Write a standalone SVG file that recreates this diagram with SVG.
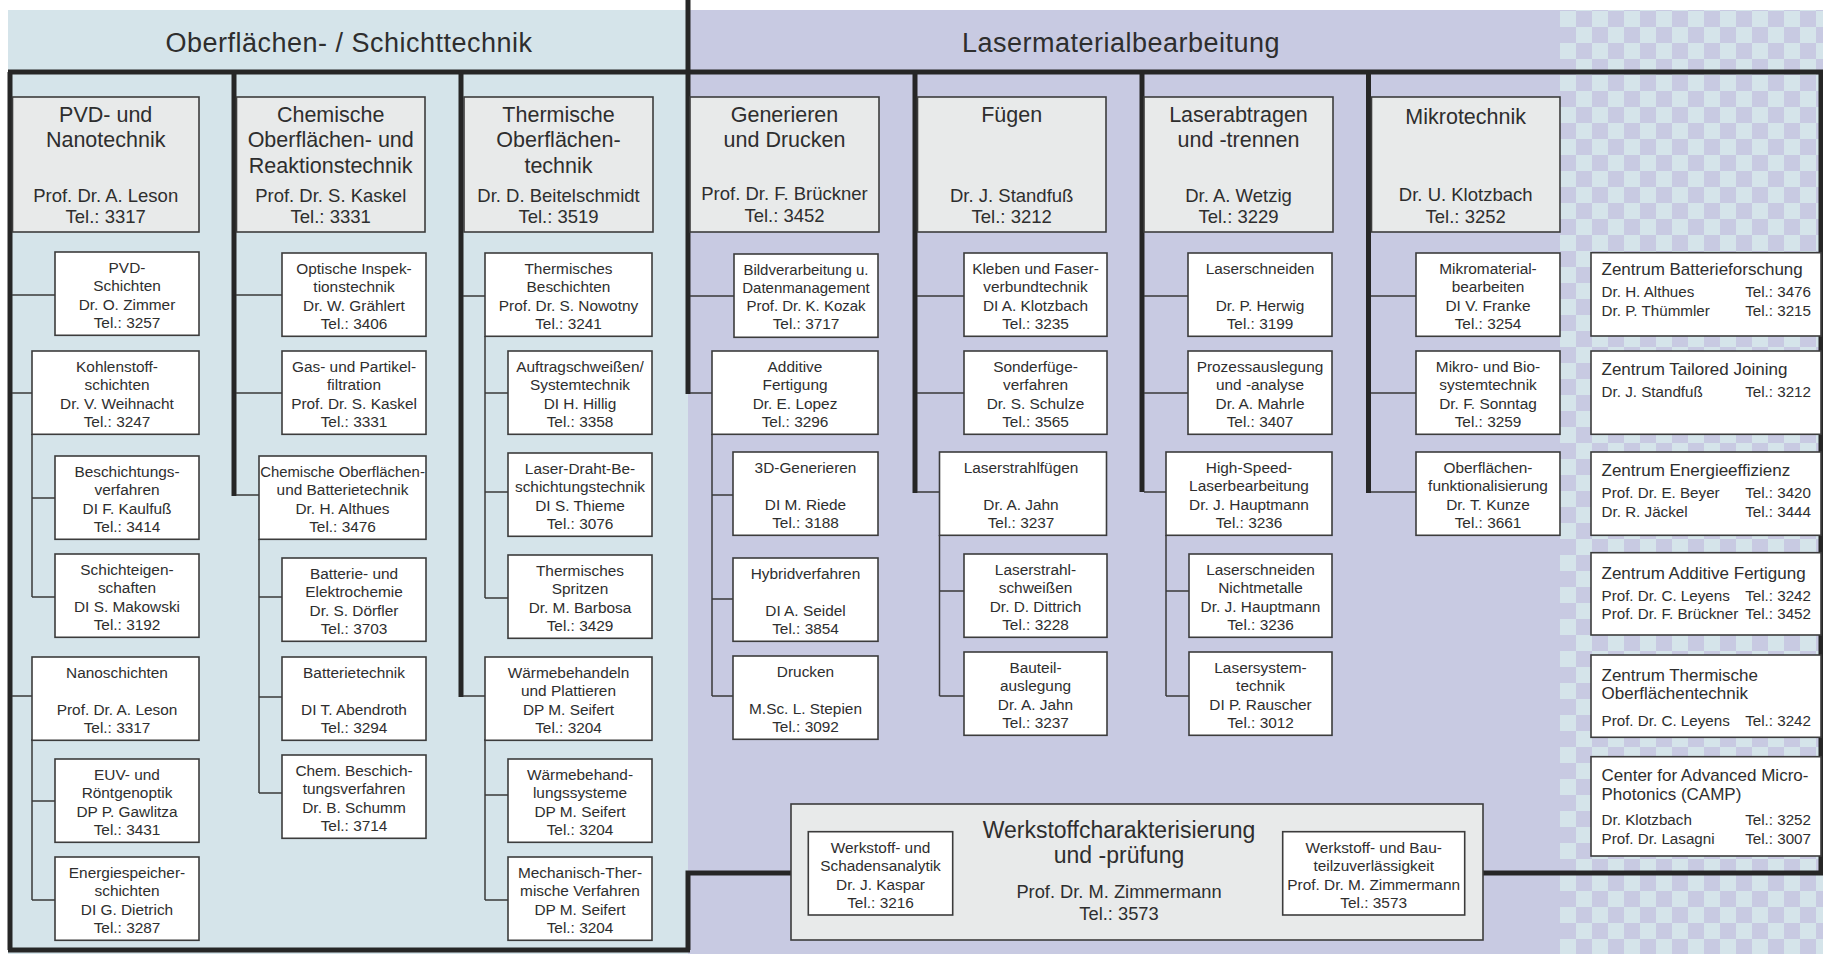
<svg xmlns="http://www.w3.org/2000/svg" width="1823" height="954" viewBox="0 0 1823 954">
<defs>
<pattern id="chk" patternUnits="userSpaceOnUse" x="1560" y="11" width="32" height="32">
<rect width="32" height="32" fill="#c8cae2"/>
<rect width="16" height="16" fill="#d5e4ea"/>
<rect x="16" y="16" width="16" height="16" fill="#d5e4ea"/>
</pattern>
</defs>
<style>
.t{font-family:"Liberation Sans",Arial,sans-serif;fill:#2e2e2e;text-anchor:middle}
.hd{font-size:27px;letter-spacing:0.5px}
.h{font-size:21.5px}
.m{font-size:18.5px}
.s{font-size:15.4px}
.zt{font-size:17px;text-anchor:start}
.zl{font-size:15.2px;text-anchor:start}
.zr{font-size:15.2px;text-anchor:end}
.mb{fill:#e8eaea;stroke:#3c3c3c;stroke-width:1.6}
.sb{fill:#ffffff;stroke:#3c3c3c;stroke-width:1.6}
.thick{fill:none;stroke:#262626;stroke-width:5}
.thin{fill:none;stroke:#3a3a3a;stroke-width:1.5}
</style>
<rect width="1823" height="954" fill="#ffffff"/>
<rect x="8" y="10" width="680" height="944" fill="#d5e4ea"/>
<rect x="688" y="10" width="1135" height="944" fill="#c8cae2"/>
<rect x="1560" y="10" width="263" height="944" fill="url(#chk)"/>
<text class="t hd" x="349" y="52">Oberflächen- / Schichttechnik</text>
<text class="t hd" x="1121" y="52">Lasermaterialbearbeitung</text>

<g id="connectors">
<path class="thick" d="M8,72 H1823 M688,0 V72 M10,72 V950 M8,950 H690 M688,950 V873 H791 M1483,873 H1823 M1821,72 V873"/>
<path class="thick" d="M234,72 V496 M461,72 V697 M688,72 V394 M915,72 V493 M1142,72 V492 M1368.5,72 V493"/>
<path class="thin" d="M12,295 H55 M12,393 H32 M32,434 V597 M32,498 H55 M32,597 H55 M12,696 H32 M32,739 V900 M32,801 H55 M32,900 H55"/>
<path class="thin" d="M236,295 H282 M236,393 H282 M236,495 H259 M259,539 V793 M259,597 H282 M259,697 H282 M259,793 H282"/>
<path class="thin" d="M463,296 H485 M485,336 V598 M485,393 H508 M485,492 H508 M485,598 H508 M463,696 H485 M485,739 V900 M485,795 H508 M485,900 H508"/>
<path class="thin" d="M690,296 H734 M690,393 H712 M712,434 V696 M712,495 H733 M712,599 H733 M712,696 H733"/>
<path class="thin" d="M917,296 H964 M917,393 H964 M917,492 H939.5 M939.5,535 V696 M939.5,591 H964 M939.5,696 H964"/>
<path class="thin" d="M1144,296 H1188 M1144,393 H1188 M1144,492 H1166 M1166,535 V696 M1166,591 H1189 M1166,696 H1189"/>
<path class="thin" d="M1371,296 H1416 M1371,393 H1416 M1371,492 H1416"/>
</g>

<g id="col-pvd">
<rect class="mb" x="12.5" y="97" width="186.5" height="135"/>
<text class="t h" x="105.7" y="121.7">PVD- und</text>
<text class="t h" x="105.7" y="146.7">Nanotechnik</text>
<text class="t m" x="105.7" y="201.7">Prof. Dr. A. Leson</text>
<text class="t m" x="105.7" y="223.3">Tel.: 3317</text>
</g>
<g id="pvd-schichten"><rect class="sb" x="55" y="252" width="144" height="83.3"/>
<text class="t s" x="127" y="272.5">PVD-</text><text class="t s" x="127" y="291">Schichten</text><text class="t s" x="127" y="309.5">Dr. O. Zimmer</text><text class="t s" x="127" y="328">Tel.: 3257</text></g>
<g id="kohlenstoff"><rect class="sb" x="32" y="351" width="167" height="83.3"/>
<text class="t s" x="117" y="371.5">Kohlenstoff-</text><text class="t s" x="117" y="390">schichten</text><text class="t s" x="117" y="408.5">Dr. V. Weihnacht</text><text class="t s" x="117" y="427">Tel.: 3247</text></g>
<g id="beschichtungsverfahren"><rect class="sb" x="55" y="456" width="144" height="83.3"/>
<text class="t s" x="127" y="476.5">Beschichtungs-</text><text class="t s" x="127" y="495">verfahren</text><text class="t s" x="127" y="513.5">DI F. Kaulfuß</text><text class="t s" x="127" y="532">Tel.: 3414</text></g>
<g id="schichteigenschaften"><rect class="sb" x="55" y="554" width="144" height="83.3"/>
<text class="t s" x="127" y="574.5">Schichteigen-</text><text class="t s" x="127" y="593">schaften</text><text class="t s" x="127" y="611.5">DI S. Makowski</text><text class="t s" x="127" y="630">Tel.: 3192</text></g>
<g id="nanoschichten"><rect class="sb" x="32" y="657" width="167" height="83.3"/>
<text class="t s" x="117" y="677.5">Nanoschichten</text><text class="t s" x="117" y="714.5">Prof. Dr. A. Leson</text><text class="t s" x="117" y="733">Tel.: 3317</text></g>
<g id="euv"><rect class="sb" x="55" y="759" width="144" height="83.3"/>
<text class="t s" x="127" y="779.5">EUV- und</text><text class="t s" x="127" y="798">Röntgenoptik</text><text class="t s" x="127" y="816.5">DP P. Gawlitza</text><text class="t s" x="127" y="835">Tel.: 3431</text></g>
<g id="energiespeicher"><rect class="sb" x="55" y="857" width="144" height="83.3"/>
<text class="t s" x="127" y="877.5">Energiespeicher-</text><text class="t s" x="127" y="896">schichten</text><text class="t s" x="127" y="914.5">DI G. Dietrich</text><text class="t s" x="127" y="933">Tel.: 3287</text></g>

<g id="col-chem">
<rect class="mb" x="236.5" y="97" width="188.5" height="135"/>
<text class="t h" x="330.7" y="121.7">Chemische</text>
<text class="t h" x="330.7" y="146.7">Oberflächen- und</text>
<text class="t h" x="330.7" y="173">Reaktionstechnik</text>
<text class="t m" x="330.7" y="201.7">Prof. Dr. S. Kaskel</text>
<text class="t m" x="330.7" y="223.3">Tel.: 3331</text>
</g>
<g id="optische"><rect class="sb" x="282" y="253" width="144" height="83.3"/>
<text class="t s" x="354" y="273.5">Optische Inspek-</text><text class="t s" x="354" y="292">tionstechnik</text><text class="t s" x="354" y="310.5">Dr. W. Grählert</text><text class="t s" x="354" y="329">Tel.: 3406</text></g>
<g id="gas"><rect class="sb" x="282" y="351" width="144" height="83.3"/>
<text class="t s" x="354" y="371.5">Gas- und Partikel-</text><text class="t s" x="354" y="390">filtration</text><text class="t s" x="354" y="408.5">Prof. Dr. S. Kaskel</text><text class="t s" x="354" y="427">Tel.: 3331</text></g>
<g id="chem-batterie"><rect class="sb" x="259" y="456" width="167" height="83.3"/>
<text class="t s" x="342.5" y="476.5" style="font-size:14.9px">Chemische Oberflächen-</text><text class="t s" x="342.5" y="495">und Batterietechnik</text><text class="t s" x="342.5" y="513.5">Dr. H. Althues</text><text class="t s" x="342.5" y="532">Tel.: 3476</text></g>
<g id="batterie-elektro"><rect class="sb" x="282" y="558" width="144" height="83.3"/>
<text class="t s" x="354" y="578.5">Batterie- und</text><text class="t s" x="354" y="597">Elektrochemie</text><text class="t s" x="354" y="615.5">Dr. S. Dörfler</text><text class="t s" x="354" y="634">Tel.: 3703</text></g>
<g id="batterietechnik"><rect class="sb" x="282" y="657" width="144" height="83.3"/>
<text class="t s" x="354" y="677.5">Batterietechnik</text><text class="t s" x="354" y="714.5">DI T. Abendroth</text><text class="t s" x="354" y="733">Tel.: 3294</text></g>
<g id="chem-beschicht"><rect class="sb" x="282" y="755" width="144" height="83.3"/>
<text class="t s" x="354" y="775.5">Chem. Beschich-</text><text class="t s" x="354" y="794">tungsverfahren</text><text class="t s" x="354" y="812.5">Dr. B. Schumm</text><text class="t s" x="354" y="831">Tel.: 3714</text></g>

<g id="col-thermisch">
<rect class="mb" x="464" y="97" width="189" height="135"/>
<text class="t h" x="558.5" y="121.7">Thermische</text>
<text class="t h" x="558.5" y="146.7">Oberflächen-</text>
<text class="t h" x="558.5" y="173">technik</text>
<text class="t m" x="558.5" y="201.7">Dr. D. Beitelschmidt</text>
<text class="t m" x="558.5" y="223.3">Tel.: 3519</text>
</g>
<g id="therm-beschichten"><rect class="sb" x="485" y="253" width="167" height="83.3"/>
<text class="t s" x="568.5" y="273.5">Thermisches</text><text class="t s" x="568.5" y="292">Beschichten</text><text class="t s" x="568.5" y="310.5">Prof. Dr. S. Nowotny</text><text class="t s" x="568.5" y="329">Tel.: 3241</text></g>
<g id="auftrag"><rect class="sb" x="508" y="351" width="144" height="83.3"/>
<text class="t s" x="580" y="371.5">Auftragschweißen/</text><text class="t s" x="580" y="390">Systemtechnik</text><text class="t s" x="580" y="408.5">DI H. Hillig</text><text class="t s" x="580" y="427">Tel.: 3358</text></g>
<g id="laser-draht"><rect class="sb" x="508" y="453" width="144" height="83.3"/>
<text class="t s" x="580" y="473.5">Laser-Draht-Be-</text><text class="t s" x="580" y="492">schichtungstechnik</text><text class="t s" x="580" y="510.5">DI S. Thieme</text><text class="t s" x="580" y="529">Tel.: 3076</text></g>
<g id="therm-spritzen"><rect class="sb" x="508" y="555" width="144" height="83.3"/>
<text class="t s" x="580" y="575.5">Thermisches</text><text class="t s" x="580" y="594">Spritzen</text><text class="t s" x="580" y="612.5">Dr. M. Barbosa</text><text class="t s" x="580" y="631">Tel.: 3429</text></g>
<g id="waermebehandeln"><rect class="sb" x="485" y="657" width="167" height="83.3"/>
<text class="t s" x="568.5" y="677.5">Wärmebehandeln</text><text class="t s" x="568.5" y="696">und Plattieren</text><text class="t s" x="568.5" y="714.5">DP M. Seifert</text><text class="t s" x="568.5" y="733">Tel.: 3204</text></g>
<g id="waermebehandlungssysteme"><rect class="sb" x="508" y="759" width="144" height="83.3"/>
<text class="t s" x="580" y="779.5">Wärmebehand-</text><text class="t s" x="580" y="798">lungssysteme</text><text class="t s" x="580" y="816.5">DP M. Seifert</text><text class="t s" x="580" y="835">Tel.: 3204</text></g>
<g id="mech-therm"><rect class="sb" x="508" y="857" width="144" height="83.3"/>
<text class="t s" x="580" y="877.5">Mechanisch-Ther-</text><text class="t s" x="580" y="896">mische Verfahren</text><text class="t s" x="580" y="914.5">DP M. Seifert</text><text class="t s" x="580" y="933">Tel.: 3204</text></g>

<g id="col-generieren">
<rect class="mb" x="690" y="97" width="189" height="135"/>
<text class="t h" x="784.5" y="121.7">Generieren</text>
<text class="t h" x="784.5" y="146.7">und Drucken</text>
<text class="t m" x="784.5" y="199.5">Prof. Dr. F. Brückner</text>
<text class="t m" x="784.5" y="221.7">Tel.: 3452</text>
</g>
<g id="bildverarbeitung"><rect class="sb" x="734" y="254" width="144" height="83.3"/>
<text class="t s" x="806" y="274.5" style="font-size:15px">Bildverarbeitung u.</text><text class="t s" x="806" y="292.5" style="font-size:15px">Datenmanagement</text><text class="t s" x="806" y="310.5" style="font-size:15px">Prof. Dr. K. Kozak</text><text class="t s" x="806" y="329">Tel.: 3717</text></g>
<g id="additive"><rect class="sb" x="712" y="351" width="166" height="83.3"/>
<text class="t s" x="795" y="371.5">Additive</text><text class="t s" x="795" y="390">Fertigung</text><text class="t s" x="795" y="408.5">Dr. E. Lopez</text><text class="t s" x="795" y="427">Tel.: 3296</text></g>
<g id="generieren-3d"><rect class="sb" x="733" y="452" width="145" height="83.3"/>
<text class="t s" x="805.5" y="472.5">3D-Generieren</text><text class="t s" x="805.5" y="509.5">DI M. Riede</text><text class="t s" x="805.5" y="528">Tel.: 3188</text></g>
<g id="hybrid"><rect class="sb" x="733" y="558" width="145" height="83.3"/>
<text class="t s" x="805.5" y="578.5">Hybridverfahren</text><text class="t s" x="805.5" y="615.5">DI A. Seidel</text><text class="t s" x="805.5" y="634">Tel.: 3854</text></g>
<g id="drucken"><rect class="sb" x="733" y="656" width="145" height="83.3"/>
<text class="t s" x="805.5" y="676.5">Drucken</text><text class="t s" x="805.5" y="713.5">M.Sc. L. Stepien</text><text class="t s" x="805.5" y="732">Tel.: 3092</text></g>

<g id="col-fuegen">
<rect class="mb" x="917.5" y="97" width="188.5" height="135"/>
<text class="t h" x="1011.7" y="121.7">Fügen</text>
<text class="t m" x="1011.7" y="201.7">Dr. J. Standfuß</text>
<text class="t m" x="1011.7" y="223.3">Tel.: 3212</text>
</g>
<g id="kleben"><rect class="sb" x="964" y="253" width="143" height="83.3"/>
<text class="t s" x="1035.5" y="273.5">Kleben und Faser-</text><text class="t s" x="1035.5" y="292">verbundtechnik</text><text class="t s" x="1035.5" y="310.5">DI A. Klotzbach</text><text class="t s" x="1035.5" y="329">Tel.: 3235</text></g>
<g id="sonderfuege"><rect class="sb" x="964" y="351" width="143" height="83.3"/>
<text class="t s" x="1035.5" y="371.5">Sonderfüge-</text><text class="t s" x="1035.5" y="390">verfahren</text><text class="t s" x="1035.5" y="408.5">Dr. S. Schulze</text><text class="t s" x="1035.5" y="427">Tel.: 3565</text></g>
<g id="laserstrahlfuegen"><rect class="sb" x="939.5" y="452" width="167" height="83.3"/>
<text class="t s" x="1021" y="472.5">Laserstrahlfügen</text><text class="t s" x="1021" y="509.5">Dr. A. Jahn</text><text class="t s" x="1021" y="528">Tel.: 3237</text></g>
<g id="laserstrahlschweissen"><rect class="sb" x="964" y="554" width="143" height="83.3"/>
<text class="t s" x="1035.5" y="574.5">Laserstrahl-</text><text class="t s" x="1035.5" y="593">schweißen</text><text class="t s" x="1035.5" y="611.5">Dr. D. Dittrich</text><text class="t s" x="1035.5" y="630">Tel.: 3228</text></g>
<g id="bauteilauslegung"><rect class="sb" x="964" y="652" width="143" height="83.3"/>
<text class="t s" x="1035.5" y="672.5">Bauteil-</text><text class="t s" x="1035.5" y="691">auslegung</text><text class="t s" x="1035.5" y="709.5">Dr. A. Jahn</text><text class="t s" x="1035.5" y="728">Tel.: 3237</text></g>

<g id="col-laserabtragen">
<rect class="mb" x="1144" y="97" width="189" height="135"/>
<text class="t h" x="1238.5" y="121.7">Laserabtragen</text>
<text class="t h" x="1238.5" y="146.7">und -trennen</text>
<text class="t m" x="1238.5" y="201.7">Dr. A. Wetzig</text>
<text class="t m" x="1238.5" y="223.3">Tel.: 3229</text>
</g>
<g id="laserschneiden"><rect class="sb" x="1188" y="253" width="144" height="83.3"/>
<text class="t s" x="1260" y="273.5">Laserschneiden</text><text class="t s" x="1260" y="310.5">Dr. P. Herwig</text><text class="t s" x="1260" y="329">Tel.: 3199</text></g>
<g id="prozessauslegung"><rect class="sb" x="1188" y="351" width="144" height="83.3"/>
<text class="t s" x="1260" y="371.5">Prozessauslegung</text><text class="t s" x="1260" y="390">und -analyse</text><text class="t s" x="1260" y="408.5">Dr. A. Mahrle</text><text class="t s" x="1260" y="427">Tel.: 3407</text></g>
<g id="high-speed"><rect class="sb" x="1166" y="452" width="166" height="83.3"/>
<text class="t s" x="1249" y="472.5">High-Speed-</text><text class="t s" x="1249" y="491">Laserbearbeitung</text><text class="t s" x="1249" y="509.5">Dr. J. Hauptmann</text><text class="t s" x="1249" y="528">Tel.: 3236</text></g>
<g id="laserschneiden-nm"><rect class="sb" x="1189" y="554" width="143" height="83.3"/>
<text class="t s" x="1260.5" y="574.5">Laserschneiden</text><text class="t s" x="1260.5" y="593">Nichtmetalle</text><text class="t s" x="1260.5" y="611.5">Dr. J. Hauptmann</text><text class="t s" x="1260.5" y="630">Tel.: 3236</text></g>
<g id="lasersystemtechnik"><rect class="sb" x="1189" y="652" width="143" height="83.3"/>
<text class="t s" x="1260.5" y="672.5">Lasersystem-</text><text class="t s" x="1260.5" y="691">technik</text><text class="t s" x="1260.5" y="709.5">DI P. Rauscher</text><text class="t s" x="1260.5" y="728">Tel.: 3012</text></g>

<g id="col-mikrotechnik">
<rect class="mb" x="1371.5" y="97" width="188.5" height="135"/>
<text class="t h" x="1465.7" y="124">Mikrotechnik</text>
<text class="t m" x="1465.7" y="201">Dr. U. Klotzbach</text>
<text class="t m" x="1465.7" y="222.7">Tel.: 3252</text>
</g>
<g id="mikromaterial"><rect class="sb" x="1416" y="253" width="144" height="83.3"/>
<text class="t s" x="1488" y="273.5">Mikromaterial-</text><text class="t s" x="1488" y="292">bearbeiten</text><text class="t s" x="1488" y="310.5">DI V. Franke</text><text class="t s" x="1488" y="329">Tel.: 3254</text></g>
<g id="mikro-bio"><rect class="sb" x="1416" y="351" width="144" height="83.3"/>
<text class="t s" x="1488" y="371.5">Mikro- und Bio-</text><text class="t s" x="1488" y="390">systemtechnik</text><text class="t s" x="1488" y="408.5">Dr. F. Sonntag</text><text class="t s" x="1488" y="427">Tel.: 3259</text></g>
<g id="oberflaechenfunkt"><rect class="sb" x="1416" y="452" width="144" height="83.3"/>
<text class="t s" x="1488" y="472.5">Oberflächen-</text><text class="t s" x="1488" y="491">funktionalisierung</text><text class="t s" x="1488" y="509.5">Dr.  T. Kunze</text><text class="t s" x="1488" y="528">Tel.: 3661</text></g>

<g id="zentrum-batterie"><rect class="sb" x="1591" y="252.7" width="230" height="83.3"/>
<text class="t zt" x="1601.5" y="275">Zentrum Batterieforschung</text>
<text class="t zl" x="1601.5" y="297.3">Dr. H. Althues</text><text class="t zr" x="1811" y="297.3">Tel.: 3476</text>
<text class="t zl" x="1601.5" y="316">Dr. P. Thümmler</text><text class="t zr" x="1811" y="316">Tel.: 3215</text></g>
<g id="zentrum-joining"><rect class="sb" x="1591" y="351" width="230" height="83.3"/>
<text class="t zt" x="1601.5" y="375">Zentrum Tailored Joining</text>
<text class="t zl" x="1601.5" y="397.3">Dr. J. Standfuß</text><text class="t zr" x="1811" y="397.3">Tel.: 3212</text></g>
<g id="zentrum-energie"><rect class="sb" x="1591" y="452" width="230" height="83.3"/>
<text class="t zt" x="1601.5" y="475.7">Zentrum Energieeffizienz</text>
<text class="t zl" x="1601.5" y="498.3">Prof. Dr. E. Beyer</text><text class="t zr" x="1811" y="498.3">Tel.: 3420</text>
<text class="t zl" x="1601.5" y="516.7">Dr. R. Jäckel</text><text class="t zr" x="1811" y="516.7">Tel.: 3444</text></g>
<g id="zentrum-additive"><rect class="sb" x="1591" y="552.7" width="230" height="82.3"/>
<text class="t zt" x="1601.5" y="579">Zentrum Additive Fertigung</text>
<text class="t zl" x="1601.5" y="601">Prof. Dr. C. Leyens</text><text class="t zr" x="1811" y="601">Tel.: 3242</text>
<text class="t zl" x="1601.5" y="619.3">Prof. Dr. F. Brückner</text><text class="t zr" x="1811" y="619.3">Tel.: 3452</text></g>
<g id="zentrum-thermische"><rect class="sb" x="1591" y="655" width="230" height="82.3"/>
<text class="t zt" x="1601.5" y="680.7">Zentrum Thermische</text>
<text class="t zt" x="1601.5" y="699.3">Oberflächentechnik</text>
<text class="t zl" x="1601.5" y="725.7">Prof. Dr. C. Leyens</text><text class="t zr" x="1811" y="725.7">Tel.: 3242</text></g>
<g id="camp"><rect class="sb" x="1591" y="756.7" width="230" height="99.3"/>
<text class="t zt" x="1601.5" y="781">Center for Advanced Micro-</text>
<text class="t zt" x="1601.5" y="800">Photonics (CAMP)</text>
<text class="t zl" x="1601.5" y="825">Dr. Klotzbach</text><text class="t zr" x="1811" y="825">Tel.: 3252</text>
<text class="t zl" x="1601.5" y="844">Prof. Dr. Lasagni</text><text class="t zr" x="1811" y="844">Tel.: 3007</text></g>

<g id="werkstoff">
<rect class="mb" x="791" y="804" width="692" height="136"/>
<text class="t" x="1119" y="838.3" style="font-size:23px">Werkstoffcharakterisierung</text>
<text class="t" x="1119" y="863.3" style="font-size:23px">und -prüfung</text>
<text class="t" x="1119" y="898.3" style="font-size:18.3px">Prof. Dr. M. Zimmermann</text>
<text class="t" x="1119" y="920" style="font-size:18.3px">Tel.: 3573</text>
</g>
<g id="schadensanalytik"><rect class="sb" x="808.3" y="831.7" width="144.4" height="83.3"/>
<text class="t s" x="880.5" y="852.5">Werkstoff- und</text><text class="t s" x="880.5" y="871">Schadensanalytik</text><text class="t s" x="880.5" y="889.5">Dr. J. Kaspar</text><text class="t s" x="880.5" y="908">Tel.: 3216</text></g>
<g id="bauteilzuverlaessigkeit"><rect class="sb" x="1282.7" y="831.7" width="182" height="83.3"/>
<text class="t s" x="1373.7" y="852.5">Werkstoff- und Bau-</text><text class="t s" x="1373.7" y="871">teilzuverlässigkeit</text><text class="t s" x="1373.7" y="889.5">Prof. Dr. M. Zimmermann</text><text class="t s" x="1373.7" y="908">Tel.: 3573</text></g>
</svg>
